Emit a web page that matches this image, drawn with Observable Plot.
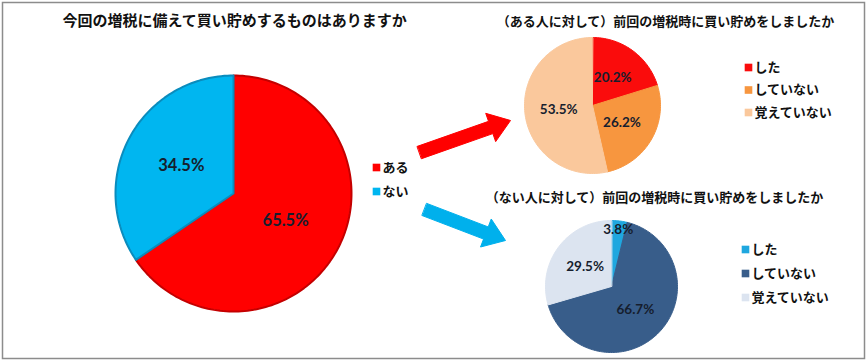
<!DOCTYPE html>
<html><head><meta charset="utf-8">
<script src="https://cdn.jsdelivr.net/npm/d3@7"></script>
<script src="https://cdn.jsdelivr.net/npm/@observablehq/plot@0.6"></script>
<style>body{margin:0;background:#fff} svg{display:block}</style>
</head><body><div id="chart"></div>
<script>
const mainTitle = "今回の増税に備えて買い貯めするものはありますか";
const mainCategories = ["ある", "ない"];
const mainValues = [65.5, 34.5];
const subCategories = ["した", "していない", "覚えていない"];
const aruTitle = "（ある人に対して）前回の増税時に買い貯めをしましたか";
const aruValues = [20.2, 26.2, 53.5];
const naiTitle = "（ない人に対して）前回の増税時に買い貯めをしましたか";
const naiValues = [3.8, 66.7, 29.5];

const mainColors = ["#ff0000", "#00b6f0"];
const mainStrokes = ["#c40000", "#0a8cbd"];
const aruColors = ["#fa0c0c", "#f7963f", "#fac89c"];
const naiColors = ["#1fa7df", "#385d8a", "#dce4f0"];

const layout = {
  main: {cx: 233, cy: 193, r: 118},
  aru: {cx: 592, cy: 105, r: 68},
  nai: {cx: 611, cy: 286, r: 66}
};

function pieSlices(key, vals, colors, strokes, L) {
  const arcs = d3.pie().sort(null).value(d => d)(vals);
  const pts = [], labels = [];
  arcs.forEach((a, i) => {
    const id = key + i;
    const st = strokes ? strokes[i] : colors[i];
    pts.push({id, x: L.cx, y: L.cy, fill: colors[i], stroke: st});
    const span = a.endAngle - a.startAngle;
    const n = Math.max(4, Math.ceil(span / (Math.PI / 120)));
    for (let k = 0; k <= n; k++) {
      const t = a.startAngle + span * k / n;
      pts.push({id, x: L.cx + L.r * Math.sin(t), y: L.cy - L.r * Math.cos(t), fill: colors[i], stroke: st});
    }
    const mid = (a.startAngle + a.endAngle) / 2;
    const f = span < 0.4 ? 0.86 : 0.5;
    labels.push({x: L.cx + L.r * f * Math.sin(mid), y: L.cy - L.r * f * Math.cos(mid), text: vals[i].toFixed(1) + "%"});
  });
  return {pts, labels};
}

const P1 = pieSlices("m", mainValues, mainColors, mainStrokes, layout.main);
const P2 = pieSlices("a", aruValues, aruColors, null, layout.aru);
const P3 = pieSlices("n", naiValues, naiColors, null, layout.nai);

function arrowPoly(id, x0, y0, x1, y1, shaftW, headW, headL, color) {
  const dx = x1 - x0, dy = y1 - y0, len = Math.hypot(dx, dy);
  const ux = dx / len, uy = dy / len, px = -uy, py = ux;
  const bx = x1 - ux * headL, by = y1 - uy * headL;
  const p = (x, y) => ({id, x, y, fill: color});
  return [
    p(x0 + px * shaftW / 2, y0 + py * shaftW / 2),
    p(bx + px * shaftW / 2, by + py * shaftW / 2),
    p(bx + px * headW / 2, by + py * headW / 2),
    p(x1, y1),
    p(bx - px * headW / 2, by - py * headW / 2),
    p(bx - px * shaftW / 2, by - py * shaftW / 2),
    p(x0 - px * shaftW / 2, y0 - py * shaftW / 2)
  ];
}
const arrows = [
  ...arrowPoly("ra", 419, 152, 510, 120, 13, 30, 21, "#ff0000"),
  ...arrowPoly("ba", 424, 209, 505, 240, 13, 30, 21, "#00b0ec")
];

const mainLegend = mainCategories.map((c, i) => ({x: 376, y: 167 + i * 24, text: c, fill: mainColors[i]}));
const aruLegend = subCategories.map((c, i) => ({x: 748, y: 67 + i * 22.5, text: c, fill: aruColors[i]}));
const naiLegend = subCategories.map((c, i) => ({x: 745, y: 249 + i * 24, text: c, fill: naiColors[i]}));
const legends = [...mainLegend, ...aruLegend, ...naiLegend];

const titles = [
  {x: 234, y: 21, text: mainTitle, size: 15},
  {x: 665, y: 21, text: aruTitle, size: 13},
  {x: 654, y: 197, text: naiTitle, size: 13}
];

const jp = "'Noto Sans CJK JP', 'Noto Sans', sans-serif";
const num = "Lato, 'Open Sans', sans-serif";

const chart = Plot.plot({
  width: 868, height: 361,
  marginLeft: 2, marginTop: 2, marginRight: 4, marginBottom: 3,
  x: {domain: [2, 864], axis: null},
  y: {domain: [2, 358], range: [2, 358], axis: null},
  color: {type: "identity"},
  marks: [
    Plot.frame({stroke: "#8c8c8c", strokeWidth: 1.5}),
    Plot.line(arrows, {x: "x", y: "y", z: "id", fill: "fill", stroke: "fill", strokeWidth: 1, curve: "linear-closed"}),
    Plot.line(P1.pts, {x: "x", y: "y", z: "id", fill: "fill", stroke: "stroke", strokeWidth: 2, strokeLinejoin: "round", curve: "linear-closed"}),
    Plot.line([...P2.pts, ...P3.pts], {x: "x", y: "y", z: "id", fill: "fill", stroke: "stroke", strokeWidth: 1, curve: "linear-closed"}),
    Plot.text(P1.labels, {x: "x", y: "y", text: "text", fontFamily: num, fontWeight: "bold", fontSize: 16.5, fill: "#161e2e"}),
    Plot.text([...P2.labels, ...P3.labels], {x: "x", y: "y", text: "text", fontFamily: num, fontWeight: "bold", fontSize: 13.5, fill: "#161e2e"}),
    Plot.dot(legends, {x: "x", y: "y", symbol: "square", r: 4.3, fill: "fill", stroke: "none"}),
    Plot.text(legends, {x: d => d.x + 6, y: "y", text: "text", textAnchor: "start", fontFamily: jp, fontWeight: "bold", fontSize: 13, fill: "#111"}),
    Plot.text(titles, {x: "x", y: "y", text: "text", fontSize: d => d.size, fontFamily: jp, fontWeight: "bold", fill: "#111"})
  ]
});
document.getElementById("chart").append(chart);
</script>
</body></html>
